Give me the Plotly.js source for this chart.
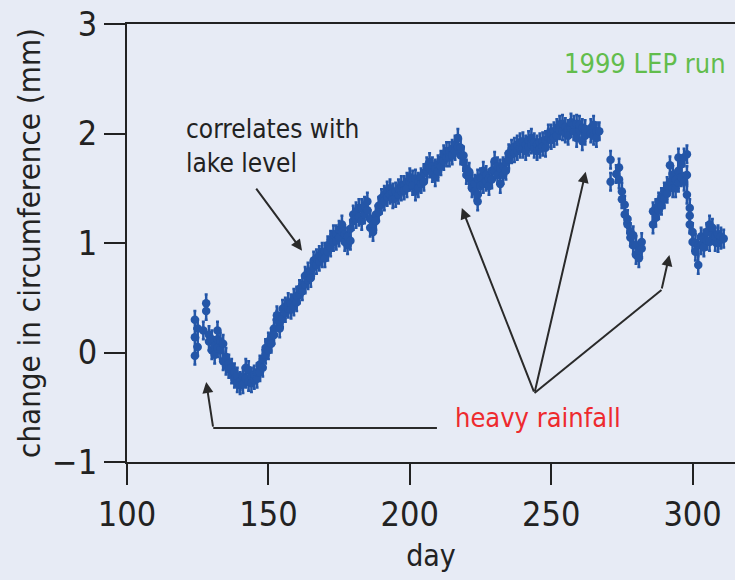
<!DOCTYPE html>
<html>
<head>
<meta charset="utf-8">
<script src="https://cdn.plot.ly/plotly-3.0.1.min.js"></script>
<style>
  html, body { margin: 0; padding: 0; background: #e7ebf5; }
  #chart { width: 735px; height: 580px; }
</style>
</head>
<body>
<div id="chart"></div>
<script>
// Day of year for each measurement (1999 LEP run)
const days = [
  124,124,124, 125,125, 127, 128,128, 129,129, 130,130, 131,131, 132,132,132, 133,133,
  134,134, 135,135, 136,136, 137,137, 138,138, 139,139, 140,140, 141,141, 142,142,
  143,143, 144,144, 145,145, 146,146, 147,147, 148,148, 149,149, 150,150, 151,151,
  152,152, 153,153, 154,154, 155,155, 156,156, 157,157, 158,158, 159,159, 160,160,
  161,161, 162,162, 163,163, 164,164, 165,165, 166,166, 167,167, 168,168, 169,169,
  170,170, 171,171, 172,172, 173,173, 174,174, 175,175, 176,176, 177,177, 178,178,
  179,179, 180,180, 181,181, 182,182, 183,183, 184,184, 185,185, 186,186, 187,187,
  188,188, 189,189, 190,190, 191,191, 192,192, 193,193, 194,194, 195,195, 196,196,
  197,197, 198,198, 199,199, 200,200, 201,201, 202,202, 203,203, 204,204, 205,205,
  206,206, 207,207, 208,208, 209,209, 210,210, 211,211, 212,212, 213,213, 214,214,
  215,215, 216,216, 217,217, 218,218, 219,219, 220,220, 221,221, 222,222, 223,223,
  224,224,224, 225,225, 226,226, 227,227, 228,228, 229,229, 230,230, 231,231,
  232,232, 233,233, 234,234, 235,235, 236,236, 237,237, 238,238, 239,239, 240,240,
  241,241, 242,242, 243,243, 244,244, 245,245, 246,246, 247,247, 248,248, 249,249,
  250,250, 251,251, 252,252, 253,253, 254,254, 255,255, 256,256, 257,257, 258,258,
  259,259, 260,260, 261,261, 262,262, 264,264, 265,265, 266,266, 267,
  271,271, 273, 274,274, 275,275, 276,276, 277,277, 278,278, 279,279, 280,280,
  281,281, 282,282,
  286,286, 287,287, 288,288, 289,289, 290,290, 291,291, 292,292, 293,293, 294,294,
  295,295,295, 296,296, 297,297, 298,298,298, 299,299,299, 300,300, 301,301,
  302,302, 303,303, 304,304, 305,305, 306,306, 307,307, 308,308, 309,309, 310,310, 311
];

// Change in circumference (mm) for each measurement
const change = [
  0.30,0.14,-0.03, 0.22,0.05, 0.20, 0.45,0.38, 0.16,0.10, 0.12,0.02, 0.06,-0.02, 0.20,0.12,0.04, 0.10,0.02,
  0.08,-0.08, -0.04,-0.12, -0.10,-0.15, -0.14,-0.20, -0.18,-0.24, -0.22,-0.28, -0.26,-0.30, -0.29,-0.22, -0.24,-0.14,
  -0.27,-0.16, -0.22,-0.28, -0.25,-0.20, -0.24,-0.18, -0.18,-0.11, -0.14,-0.06, -0.02,0.04, 0.10,0.02, 0.14,0.08,
  0.22,0.16, 0.30,0.34, 0.22,0.28, 0.40,0.31, 0.36,0.42, 0.40,0.46, 0.45,0.39, 0.42,0.50, 0.46,0.52,
  0.53,0.58, 0.56,0.62, 0.62,0.70, 0.74,0.66, 0.74,0.68, 0.78,0.84, 0.80,0.86, 0.83,0.89, 0.86,0.92,
  0.92,0.86, 0.98,0.92, 0.96,1.03, 1.01,1.08, 1.08,1.02, 1.12,1.05, 1.17,1.10, 1.01,1.08, 1.06,0.98,
  1.13,1.02, 1.20,1.26, 1.29,1.22, 1.24,1.32, 1.32,1.20, 1.34,1.26, 1.38,1.30, 1.22,1.14, 1.17,1.10,
  1.26,1.20, 1.34,1.28, 1.41,1.35, 1.44,1.38, 1.48,1.42, 1.50,1.44, 1.46,1.40, 1.41,1.47, 1.44,1.50,
  1.53,1.47, 1.53,1.48, 1.56,1.50, 1.56,1.60, 1.58,1.52, 1.59,1.47, 1.56,1.50, 1.60,1.54, 1.56,1.64,
  1.66,1.70, 1.74,1.68, 1.70,1.64, 1.68,1.60, 1.65,1.72, 1.76,1.70, 1.81,1.75, 1.78,1.84, 1.84,1.78,
  1.86,1.80, 1.90,1.84, 1.96,1.88, 1.87,1.80, 1.74,1.80, 1.68,1.62, 1.59,1.65, 1.56,1.50, 1.47,1.54,
  1.38,1.44,1.59, 1.52,1.60, 1.66,1.54, 1.62,1.56, 1.59,1.52, 1.66,1.58, 1.75,1.66, 1.70,1.62,
  1.68,1.54, 1.62,1.70, 1.66,1.74, 1.76,1.82, 1.81,1.86, 1.88,1.82, 1.90,1.84, 1.86,1.92, 1.93,1.86,
  1.84,1.90, 1.88,1.94, 1.96,1.90, 1.92,1.86, 1.90,1.84, 1.86,1.92, 1.93,1.88, 1.87,1.94, 1.96,2.00,
  2.00,1.94, 2.02,1.96, 2.05,1.98, 2.03,2.08, 2.09,2.02, 2.00,2.06, 2.04,1.98, 2.05,2.10, 2.02,2.08,
  2.09,1.96, 2.03,2.08, 2.05,1.93, 1.98,2.04, 2.05,2.00, 2.08,1.98, 2.02,1.96, 2.02,
  1.76,1.56, 1.63, 1.69,1.58, 1.47,1.40, 1.35,1.26, 1.17,1.22, 1.10,1.05, 1.07,0.98, 0.98,0.89,
  0.86,0.93, 1.01,0.95,
  1.29,1.17, 1.23,1.32, 1.38,1.30, 1.34,1.42, 1.47,1.40, 1.52,1.45, 1.56,1.71, 1.62,1.50, 1.50,1.58,
  1.78,1.66,1.55, 1.72,1.60, 1.78,1.56, 1.81,1.44,1.62, 1.32,1.17,1.25, 1.01,1.10, 0.92,1.00,
  0.80,0.98, 0.98,1.06, 1.04,0.96, 1.10,1.02, 1.17,1.01, 1.08,1.14, 1.01,1.06, 1.00,1.08, 1.03,1.06, 1.04
];

// Measurement uncertainty (mm), same for every point
const uncertainty = 0.08;

const xTicks = [100, 150, 200, 250, 300];
const yTicks = [-1, 0, 1, 2, 3];
const yTickText = ['\u22121', '0', '1', '2', '3'];

const FONT = '"Liberation Sans Narrow", "DejaVu Sans Condensed", "Arial Narrow", "Liberation Sans", sans-serif';
const INK = '#222222';
const ARROW = '#2a2a2a';
const BLUE = '#2456a8';

const trace = {
  type: 'scatter',
  mode: 'markers',
  x: days,
  y: change,
  marker: { color: BLUE, size: 8.5, line: { width: 0 } },
  error_y: { type: 'constant', value: uncertainty, color: BLUE, thickness: 2.5, width: 1.5 },
  hoverinfo: 'x+y'
};

// Helper for an arrow given in data coordinates (tail -> head)
function arrow(tail, head) {
  return {
    x: head[0], y: head[1], ax: tail[0], ay: tail[1],
    xref: 'x', yref: 'y', axref: 'x', ayref: 'y',
    text: '', showarrow: true, arrowhead: 2, arrowsize: 1.1,
    arrowwidth: 2, arrowcolor: ARROW, standoff: 0, startstandoff: 0
  };
}

const hub = [244.1, -0.37];
const rainBend = [130.5, -0.69];
const rainStart = [209.6, -0.69];
const lastBend = [289.0, 0.57];

const annotations = [
  { x: 120, y: 1.89, xref: 'x', yref: 'y', xanchor: 'left', yanchor: 'middle', align: 'left',
    text: 'correlates with<br>lake level', showarrow: false,
    font: { family: FONT, size: 26, color: INK } },
  { x: 245.3, y: -0.59, xref: 'x', yref: 'y', xanchor: 'center', yanchor: 'middle',
    text: 'heavy rainfall', showarrow: false,
    font: { family: FONT, size: 27, color: '#ee2a2e' } },
  { x: 283, y: 2.64, xref: 'x', yref: 'y', xanchor: 'center', yanchor: 'middle',
    text: '1999 LEP run', showarrow: false,
    font: { family: FONT, size: 27, color: '#62bd4c' } },
  arrow([145.3, 1.51], [161.9, 0.93]),
  arrow(rainBend, [128.0, -0.27]),
  arrow(hub, [218.4, 1.32]),
  arrow(hub, [262.2, 1.65]),
  arrow(lastBend, [291.8, 0.89])
];

const shapes = [
  { type: 'path', xref: 'x', yref: 'y',
    path: `M ${rainStart[0]},${rainStart[1]} L ${rainBend[0]},${rainBend[1]}`,
    line: { color: ARROW, width: 2 } },
  { type: 'path', xref: 'x', yref: 'y',
    path: `M ${hub[0]},${hub[1]} L ${lastBend[0]},${lastBend[1]}`,
    line: { color: ARROW, width: 2 } }
];

const layout = {
  width: 735,
  height: 580,
  margin: { l: 127, r: 0, t: 24, b: 118 },
  paper_bgcolor: '#e7ebf5',
  plot_bgcolor: '#e7ebf5',
  showlegend: false,
  font: { family: FONT, color: INK },
  xaxis: {
    range: [100, 315],
    tickvals: xTicks,
    ticktext: xTicks.map(String),
    ticks: 'outside', ticklen: 21, tickwidth: 2, tickcolor: INK,
    showline: true, linecolor: INK, linewidth: 2, mirror: true,
    showgrid: false, zeroline: false,
    tickfont: { family: FONT, size: 34, color: INK },
    title: { text: 'day', font: { family: FONT, size: 30, color: INK }, standoff: 12 }
  },
  yaxis: {
    range: [-1, 3],
    tickvals: yTicks,
    ticktext: yTickText,
    ticks: 'outside', ticklen: 21, tickwidth: 2, tickcolor: INK,
    showline: true, linecolor: INK, linewidth: 2,
    showgrid: false, zeroline: false,
    tickfont: { family: FONT, size: 34, color: INK },
    title: { text: 'change in circumference (mm)', font: { family: FONT, size: 31, color: INK }, standoff: 2 }
  },
  annotations: annotations,
  shapes: shapes
};

Plotly.newPlot('chart', [trace], layout, { displayModeBar: false, staticPlot: true });
</script>
</body>
</html>
